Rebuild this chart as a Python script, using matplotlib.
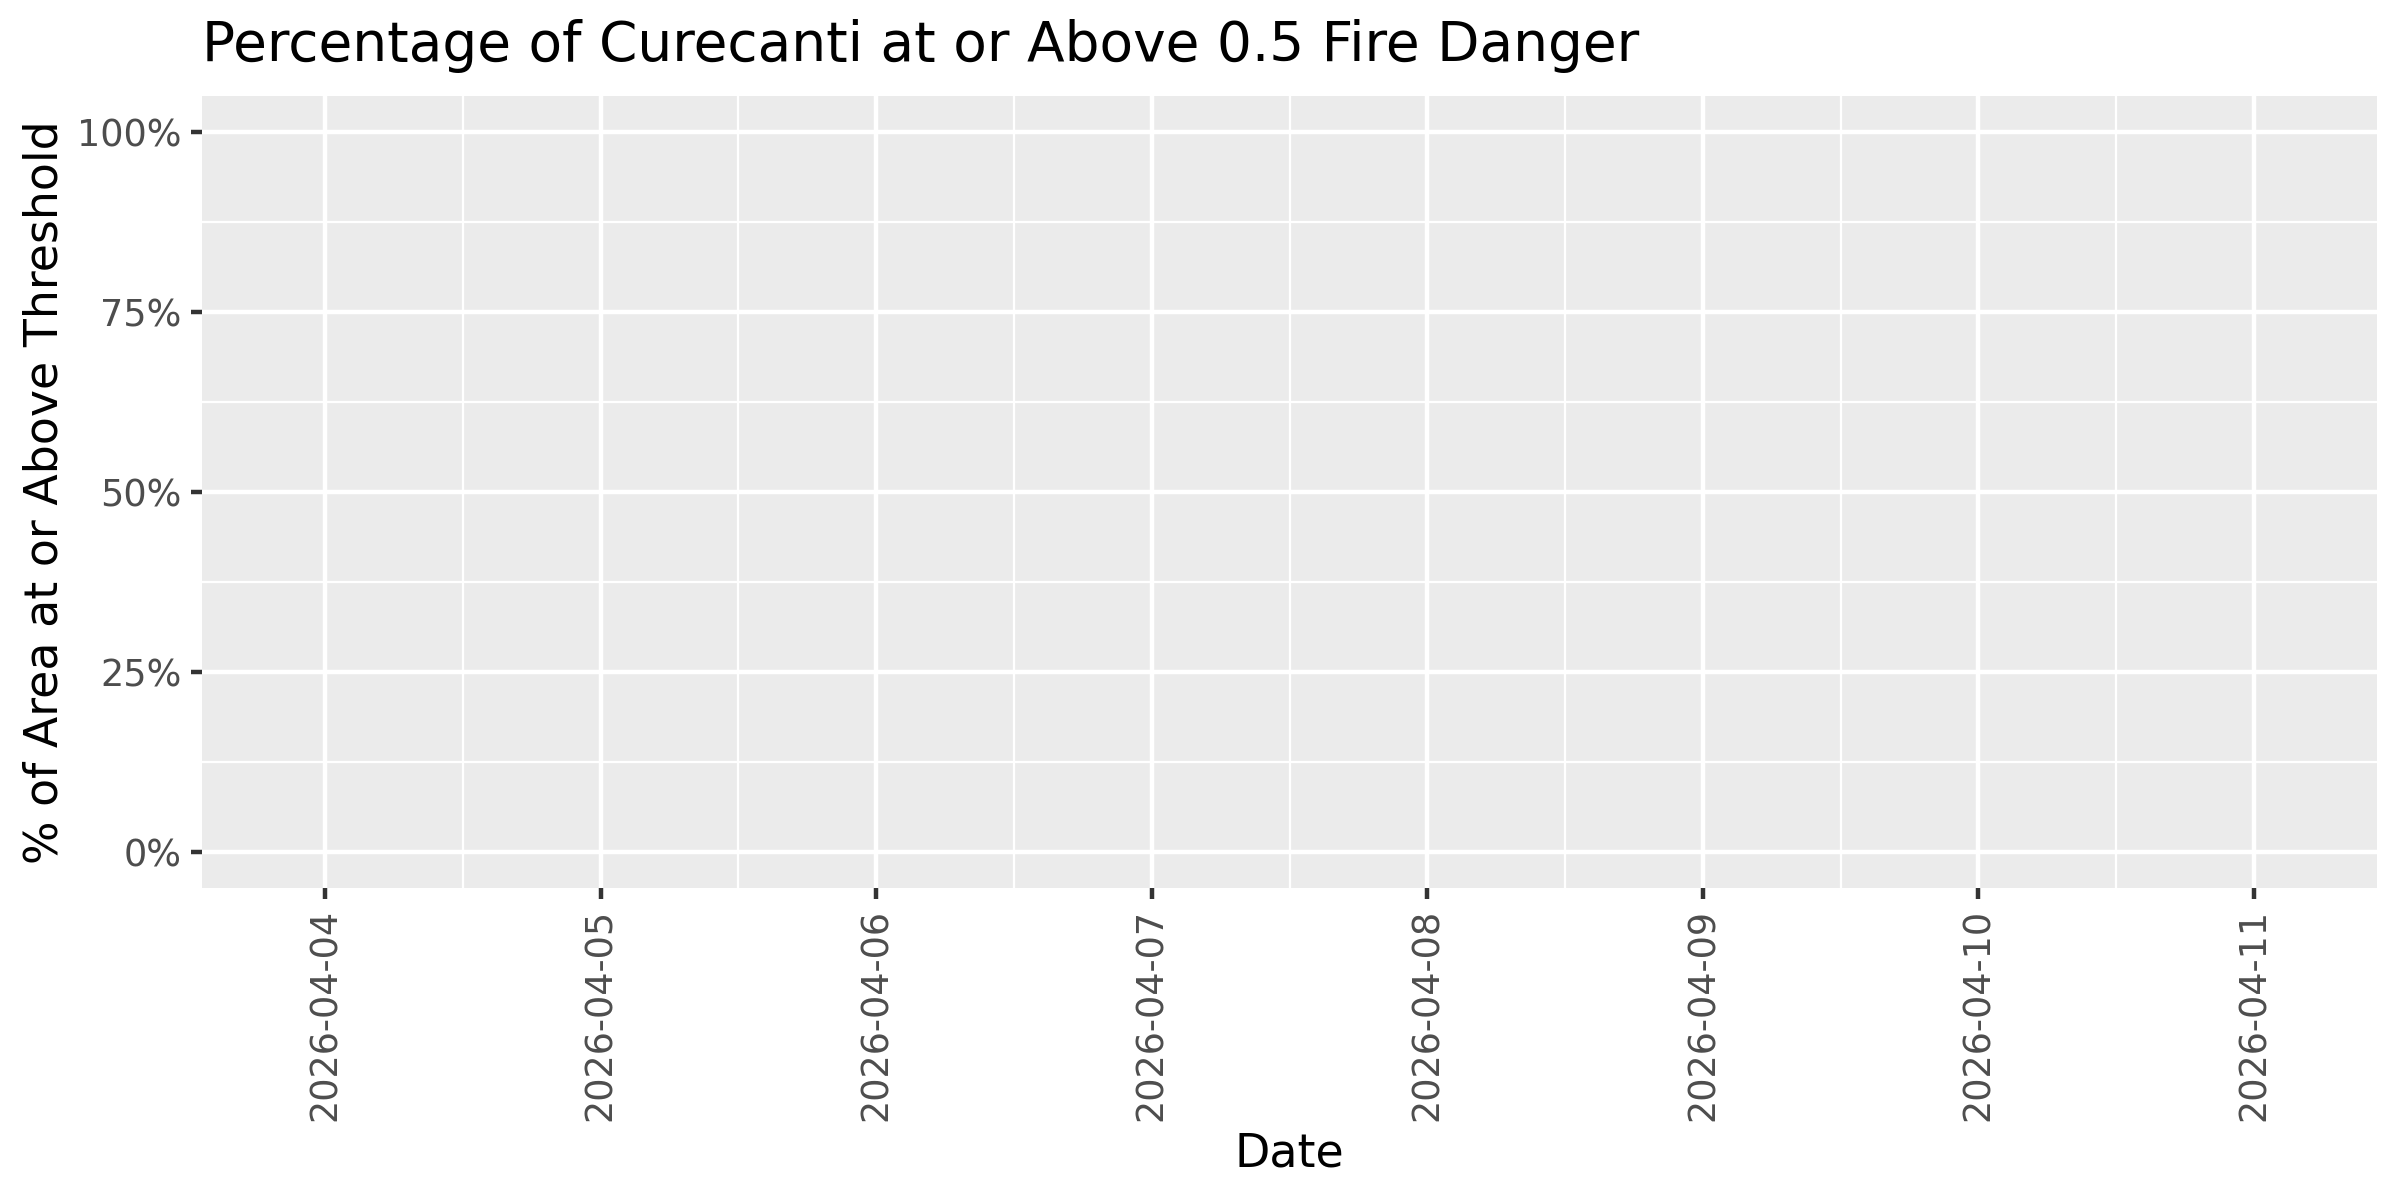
import datetime as dt
import matplotlib
matplotlib.use("Agg")
import matplotlib.pyplot as plt
import matplotlib.dates as mdates
from matplotlib.ticker import FuncFormatter, MultipleLocator

# data: the series is empty (nothing at or above threshold plotted)
dates = [dt.date(2026, 4, d) for d in range(4, 12)]
pct_above = []      # no values drawn in the reference
pct_dates = []
y_ticks = [0, 0.25, 0.5, 0.75, 1.0]

title = "Percentage of Curecanti at or Above 0.5 Fire Danger"

fig = plt.figure(figsize=(8, 4), dpi=300)
ax = fig.add_axes([202 / 2400, 1 - 888 / 1200, (2377 - 202) / 2400, (888 - 96) / 1200])

ax.set_facecolor("#EBEBEB")
for s in ax.spines.values():
    s.set_visible(False)

ax.plot(pct_dates, pct_above, color="black")

# limits with ggplot-like expansion
pad = 0.446
x0 = mdates.date2num(dates[0]) - pad
x1 = mdates.date2num(dates[-1]) + pad
ax.set_xlim(x0, x1)
ax.set_ylim(-0.05, 1.05)

ax.set_xticks([mdates.date2num(d) for d in dates])
ax.set_xticklabels([d.strftime("%Y-%m-%d") for d in dates], rotation=90)
ax.xaxis.set_minor_locator(MultipleLocator(1.0, offset=0.5))
ax.set_yticks(y_ticks)
ax.yaxis.set_major_formatter(FuncFormatter(lambda v, p: f"{v*100:.0f}%"))
ax.yaxis.set_minor_locator(MultipleLocator(0.25, offset=0.125))

ax.grid(which="major", color="white", linewidth=1.07)
ax.grid(which="minor", color="white", linewidth=0.53)
ax.set_axisbelow(True)

ax.tick_params(which="major", length=2.75, width=1.07, color="#333333",
               labelsize=8.8, labelcolor="#4D4D4D", pad=2.2)
ax.tick_params(which="minor", length=0)

ax.set_xlabel("Date", fontsize=11, color="black", labelpad=2.5)
ax.set_ylabel("% of Area at or Above Threshold", fontsize=11, color="black", labelpad=2.2)

fig.text(202 / 2400, 1 - 61 / 1200, title, fontsize=13.2, color="black",
         ha="left", va="baseline")

fig.savefig("out.png", dpi=300, facecolor="white")
